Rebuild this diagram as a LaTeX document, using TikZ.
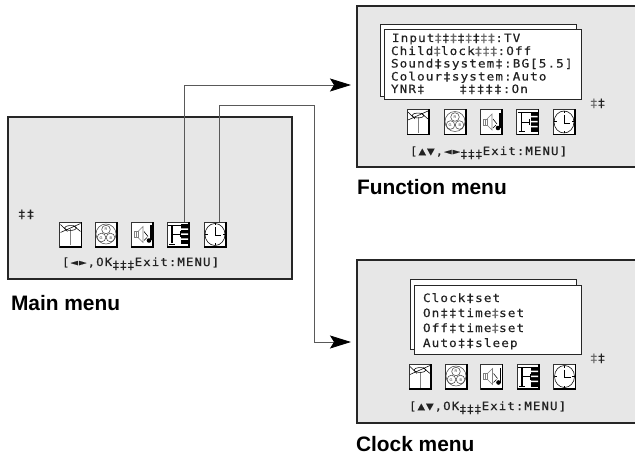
\documentclass[tikz,border=0pt]{standalone}
\usepackage{fontspec}
\usetikzlibrary{arrows.meta}
\setmainfont{Liberation Sans}
\newfontfamily\osdfam[FakeStretch=1.1,LetterSpace=9.4,FakeBold=0.35]{DejaVu Sans Mono}
\definecolor{screenbg}{HTML}{E7E7E7}
\definecolor{osdink}{HTML}{222222}
\newcommand\dg{\textcolor{gray!80!black}{‡}}
\newcommand\dk{‡}
\newcommand\lowdg{\raisebox{-3pt}{‡}}
\newcommand\iconrow[7]{%
  \node[iconbox] (#1A) at (#2,#7) {};
  \node[iconbox] (#1B) at (#3,#7) {};
  \node[iconbox] (#1C) at (#4,#7) {};
  \node[iconbox] (#1D) at (#5,#7) {};
  \node[iconbox] (#1E) at (#6,#7) {};
  % antenna
  \begin{scope}[shift={(#1A.center)}]
    \draw[edgeink] (-11,12.5) -- (11,12.5) -- (11,-12.5);
    \draw[gray,line width=1pt] (0,-5) -- (0,11);
    \draw[icothin] (0,-6.5) ellipse (6 and 2.4);
    \draw[icothin] (-10,-2) -- (10,-11);
    \draw[icothin] (-10,-10) -- (-3,-3);
    \draw[icothin] (10,-3) -- (3,-9);
  \end{scope}
  % colours
  \begin{scope}[shift={(#1B.center)}]
    \draw[edgeink] (-11,12.5) -- (11,12.5) -- (11,-12.5);
    \draw[icothin,black!70] (0,-0.5) circle (10);
    \draw[icothin,black!70] (0,-5) circle (4.3);
    \draw[icothin,black!70] (-4.5,3) circle (4.3);
    \draw[icothin,black!70] (4.5,3) circle (4.3);
    \node[tinyletter] (#1Br) at (0,-5) {R};
    \node[tinyletter] (#1Bg) at (-5,3.5) {G};
    \node[tinyletter] (#1Bb) at (5,3.5) {B};
  \end{scope}
  % speaker
  \begin{scope}[shift={(#1C.center)}]
    \draw[edgeink] (-11,12.5) -- (11,12.5) -- (11,-12.5);
    \draw[icothin,gray] (-8,-3) rectangle (-4,3);
    \draw[icothin,gray] (-4,-3) -- (1,-8) -- (1,8) -- (-4,3);
    \draw[icothin,gray] (-6,-3) -- (-6,3);
    \draw[icothin] (2,-3) -- (6,2);
    \draw[icothin] (2,6) -- (5,3);
    \fill[black] (8,-9) rectangle (9.6,6);
    \fill[black] (7,6) circle (2.3);
  \end{scope}
  % F menu
  \begin{scope}[shift={(#1D.center)}]
    \draw[edgeink] (-11,12.5) -- (11,12.5) -- (11,-12.5);
    \draw[line width=1.6pt] (-6,-9) -- (-6,9);
    \draw[line width=0.7pt] (-10,-9.5) -- (3,-9.5) (-9,9.5) -- (-3,9.5) (-6,0) -- (2,0) (2,-3) -- (2,3);
    \fill[black] (3,-10) rectangle (10,10);
    \fill[white] (3,-6) rectangle (10,-4.5) (3,-1) rectangle (10,0.5) (3,4) rectangle (10,5.5);
  \end{scope}
  % clock
  \begin{scope}[shift={(#1E.center)}]
    \draw[edgeink] (-11,12.5) -- (11,12.5) -- (11,-12.5);
    \draw[icothin] (0,0) ellipse (10 and 11);
    \draw[line width=0.9pt] (0,-7) -- (0,1) -- (6,1);
    \draw[line width=1pt] (-10,0) -- (-7.5,0) (10,0) -- (7.5,0) (0,-11) -- (0,-9) (0,11) -- (0,9);
  \end{scope}
}
\tikzset{
  x=1pt,y=-1pt,
  screen/.style={rectangle,fill=screenbg,inner sep=0pt,outer sep=0pt,anchor=north west},
  border/.style={draw=black!85,line width=1.5pt},
  menubox/.style={draw=black!85,fill=white,line width=1pt},
  iconbox/.style={rectangle,draw=black!80,fill=white,line width=0.6pt,minimum width=22pt,minimum height=25pt,inner sep=0pt,outer sep=0pt},
  edgeink/.style={black,line width=1.1pt},
  icothin/.style={line width=0.55pt},
  tinyletter/.style={font=\fontsize{3.8}{4}\selectfont,inner sep=0pt,text=black!80},
  osd/.style={anchor=base west,inner sep=0pt,outer sep=0pt,text=osdink,font=\osdfam\fontsize{11.5}{13}\selectfont},
  osdb/.style={anchor=base west,inner sep=0pt,outer sep=0pt,text=osdink,font=\osdfam\fontsize{11.3}{13}\selectfont},
  caption/.style={anchor=base west,inner sep=0pt,outer sep=0pt,text=black,font=\bfseries\fontsize{20.9}{24}\selectfont},
  conn/.style={draw=black!65,line width=0.8pt,-{Stealth[length=21pt,width=13pt,inset=4pt,black]},shorten >=6pt},
}
\begin{document}
\begin{tikzpicture}
\useasboundingbox (0,0) rectangle (635,457);
% screens
\node[screen,border,minimum width=284pt,minimum height=162pt] (ms) at (8,117) {};
\node[screen,minimum width=278pt,minimum height=161pt] (fs) at (357,6) {};
\node[screen,minimum width=278pt,minimum height=163pt] (cs) at (357,260) {};
\draw[border] (fs.north east) -- (fs.north west) -- (fs.south west) -- (fs.south east);
\draw[border] (cs.north east) -- (cs.north west) -- (cs.south west) -- (cs.south east);
% main
\iconrow{m}{70.5}{106}{142}{178}{215}{234.5}
\node[osd] (mdd) at (18,218) {\dk\dk};
\node[osdb] (mhelp) at (62,266) {[◄►,OK\lowdg\lowdg\lowdg Exit:MENU]};
\node[caption] (mcap) at (11,310) {Main menu};
% function
\node[rectangle,menubox,anchor=north west,minimum width=196pt,minimum height=72pt,inner sep=0pt] (fb) at (380,24) {};
\node[rectangle,menubox,anchor=north west,minimum width=197pt,minimum height=70pt,inner sep=0pt] (ff) at (384,29) {};
\node[osd] (f1) at (392,42) {Input\dg\dk\dg\dk\dg\dk\dg\dg:TV};
\node[osd] (f2) at (391,55) {Child\dg lock\dg\dg\dg:Off};
\node[osd] (f3) at (391,67.5) {Sound\dk system\dk:BG[5.5]};
\node[osd] (f4) at (391,80.5) {Colour\dk system:Auto};
\node[osd] (f5) at (391,93) {YNR\dk\hspace{34.7pt}\dk\dk\dk\dk\dk:On};
\iconrow{f}{418}{455}{491}{527.5}{564}{122}
\node[osd] (fdd) at (590,107) {\dg\dk};
\node[osdb] (fhelp) at (410,155) {[▲▼,◄►\lowdg\lowdg\lowdg Exit:MENU]};
\node[caption] (fcap) at (357,195) {Function menu};
% clock
\node[rectangle,menubox,anchor=north west,minimum width=166pt,minimum height=70pt,inner sep=0pt] (cb) at (410,279) {};
\node[rectangle,menubox,anchor=north west,minimum width=167pt,minimum height=69pt,inner sep=0pt] (cf) at (414,285) {};
\node[osd] (c1) at (423,302) {Clock\dk set};
\node[osd] (c2) at (423,317) {On\dk\dk time\dg set};
\node[osd] (c3) at (423,332) {Off\dk time\dg set};
\node[osd] (c4) at (423,347) {Auto\dk\dk sleep};
\iconrow{c}{420}{456}{491.5}{528}{564.5}{376.5}
\node[osd] (cdd) at (590,362) {\dg\dk};
\node[osdb] (chelp) at (409,410) {[▲▼,OK\lowdg\lowdg\lowdg Exit:MENU]};
\node[caption] (ccap) at (356,451) {Clock menu};
% connectors
\coordinate (fy) at (0,85);
\coordinate (bend) at (314,105);
\coordinate (cy) at (0,342);
\draw[conn] ([xshift=6pt]mD.north) |- (fy -| fs.west);
\draw[conn] ([xshift=4pt]mE.north) |- (bend) |- (cy -| cs.west);
\end{tikzpicture}
\end{document}
